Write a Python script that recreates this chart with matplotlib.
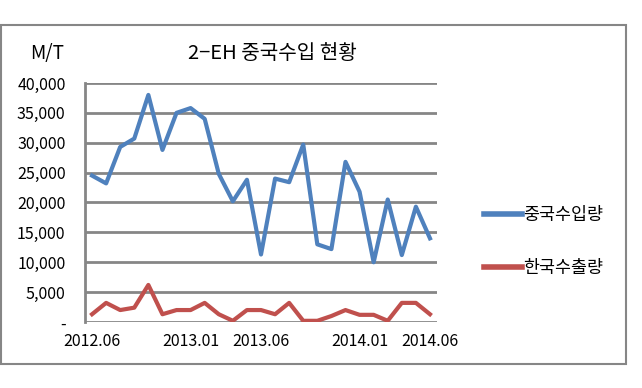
import matplotlib.pyplot as plt
from matplotlib.patches import Rectangle
from matplotlib.ticker import FuncFormatter

plt.rcParams['font.family'] = ['Noto Sans CJK KR', 'DejaVu Sans']

# 2012.06 ~ 2014.06, monthly
months = ['2012.06', '2012.07', '2012.08', '2012.09', '2012.10', '2012.11', '2012.12',
          '2013.01', '2013.02', '2013.03', '2013.04', '2013.05', '2013.06', '2013.07',
          '2013.08', '2013.09', '2013.10', '2013.11', '2013.12', '2014.01', '2014.02',
          '2014.03', '2014.04', '2014.05', '2014.06']
china_import = [24500, 23200, 29300, 30700, 38000, 28800, 35000, 35800, 34000, 24800,
                20200, 23800, 11300, 24000, 23400, 29700, 13000, 12200, 26800, 21800,
                10000, 20500, 11200, 19300, 14000]
korea_export = [1300, 3200, 2000, 2400, 6200, 1300, 2000, 2000, 3200, 1300,
                200, 2000, 2000, 1300, 3200, 200, 200, 1000, 2000, 1200,
                1200, 200, 3200, 3200, 1300]
shown_ticks = ['2012.06', '2013.01', '2013.06', '2014.01', '2014.06']

fig = plt.figure(figsize=(6.42, 3.88), dpi=100)
ax = fig.add_axes([0.1324, 0.1701, 0.5483, 0.616])

x = list(range(len(months)))
l1, = ax.plot(x, china_import, color='#4F81BD', lw=3, label='중국수입량')
l2, = ax.plot(x, korea_export, color='#C0504D', lw=3, label='한국수출량')

ax.set_xlim(-0.5, len(months) - 0.5)
ax.set_ylim(0, 40000)
ax.set_yticks(range(0, 40001, 5000))
ax.yaxis.set_major_formatter(FuncFormatter(lambda v, p: '-' if v == 0 else f'{int(v):,}'))
ax.set_xticks([months.index(m) for m in shown_ticks])
ax.set_xticklabels(shown_ticks)

ax.grid(axis='y', color='#868686', lw=2)
ax.set_axisbelow(True)
for s in ['top', 'right', 'bottom']:
    ax.spines[s].set_visible(False)
ax.spines['left'].set_color('#868686')
ax.spines['left'].set_linewidth(2)
ax.tick_params(length=0, labelsize=11.5, colors='black')
ax.tick_params(axis='x', pad=8)
ax.tick_params(axis='y', pad=14)

fig.text(0.425, 0.863, '2\u2212EH 중국수입 현황', ha='center', va='center',
         fontsize=14.5, fontweight='medium')
fig.text(0.073, 0.863, 'M/T', ha='center', va='center', fontsize=13.5)

leg = fig.legend(handles=[l1, l2], loc='center left', bbox_to_anchor=(0.73, 0.378),
                 frameon=False, fontsize=12.5, handlelength=2.2, handletextpad=0.05,
                 labelspacing=2.0)
for h in leg.get_lines():
    h.set_linewidth(4)

fig.patches.append(Rectangle((0.002, 0.062), 0.973, 0.874, transform=fig.transFigure,
                             fill=False, edgecolor='#868686', lw=1.5))

fig.savefig('out.png', dpi=100)
